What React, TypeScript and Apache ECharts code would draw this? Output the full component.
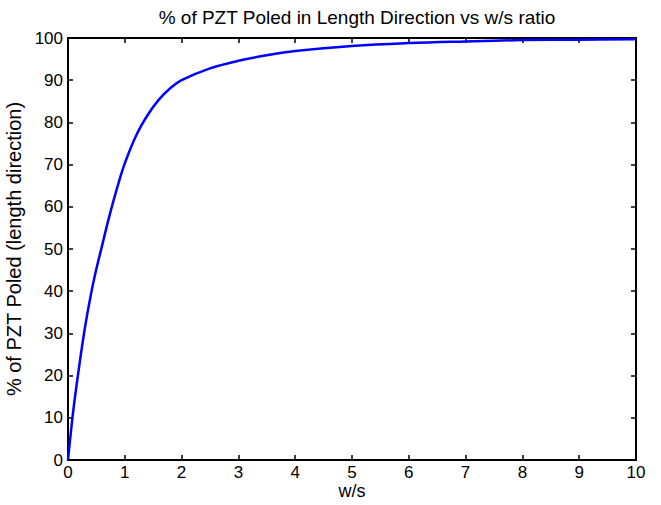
import React, { useEffect, useRef } from "react";
import * as echarts from "echarts";

const titleText = "% of PZT Poled in Length Direction vs w/s ratio";
const xName = "w/s";
const yName = "% of PZT Poled (length direction)";
const wsRatio = [0, 0.05, 0.1, 0.2, 0.3, 0.4, 0.5, 0.6, 0.7, 0.8, 0.9, 1.0, 1.2, 1.4, 1.6, 1.8, 2.0, 2.5, 3.0, 3.5, 4.0, 5.0, 6.0, 7.0, 8.0, 9.0, 10.0];
const poledPct = [0, 6.5, 12.5, 22.5, 31.5, 39, 45.3, 50.8, 56.3, 61.4, 66.1, 70.3, 76.9, 81.7, 85.4, 88.1, 90, 92.8, 94.6, 95.9, 96.9, 98.1, 98.8, 99.2, 99.5, 99.6, 99.7];

const FONT = "Liberation Sans, Arial, Helvetica, sans-serif";

export default function App() {
  const ref = useRef<HTMLDivElement>(null);
  useEffect(() => {
    if (!ref.current) return;
    const chart = echarts.init(ref.current, null, { renderer: "svg" });
    const axisLine = { show: true, onZero: false, lineStyle: { color: "#000", width: 2 } };
    const tick = { show: true, inside: true, length: 5, lineStyle: { color: "#000", width: 1.5 } };
    chart.setOption({
      animation: false,
      backgroundColor: "#fff",
      textStyle: { fontFamily: FONT },
      title: {
        text: titleText,
        left: 352,
        textAlign: "center",
        top: 3,
        textStyle: { fontFamily: FONT, fontSize: 19, fontWeight: "normal", color: "#000" },
      },
      graphic: [
        {
          type: "text",
          x: 352,
          y: 491,
          style: {
            text: xName,
            fill: "#000",
            font: "18px " + FONT,
            textAlign: "center",
            textVerticalAlign: "middle",
          },
        },
      ],
      grid: { left: 68, right: 25, top: 38, bottom: 45, containLabel: false, outerBoundsMode: "none" },
      xAxis: [
        {
          type: "value",
          min: 0,
          max: 10,
          interval: 1,
          position: "bottom",
          axisLine,
          axisTick: tick,
          axisLabel: { color: "#000", fontFamily: FONT, fontSize: 17, margin: 4 },
          splitLine: { show: false },
        },
        {
          type: "value",
          min: 0,
          max: 10,
          interval: 1,
          position: "top",
          axisLine,
          axisTick: tick,
          axisLabel: { show: false },
          splitLine: { show: false },
        },
      ],
      yAxis: [
        {
          type: "value",
          min: 0,
          max: 100,
          interval: 10,
          position: "left",
          name: yName,
          nameLocation: "middle",
          nameGap: 36,
          nameRotate: 90,
          nameTextStyle: { fontFamily: FONT, fontSize: 20, color: "#000" },
          axisLine,
          axisTick: tick,
          axisLabel: { color: "#000", fontFamily: FONT, fontSize: 17, margin: 5 },
          splitLine: { show: false },
        },
        {
          type: "value",
          min: 0,
          max: 100,
          interval: 10,
          position: "right",
          axisLine,
          axisTick: tick,
          axisLabel: { show: false },
          splitLine: { show: false },
        },
      ],
      series: [
        {
          type: "line",
          data: wsRatio.map((x, i) => [x, poledPct[i]]),
          smooth: 0.4,
          showSymbol: false,
          lineStyle: { color: "#0000ff", width: 2.5 },
          xAxisIndex: 0,
          yAxisIndex: 0,
        },
      ],
    });
    return () => chart.dispose();
  }, []);
  return <div ref={ref} style={{ width: 661, height: 505, position: "absolute", left: 0, top: 0 }} />;
}
